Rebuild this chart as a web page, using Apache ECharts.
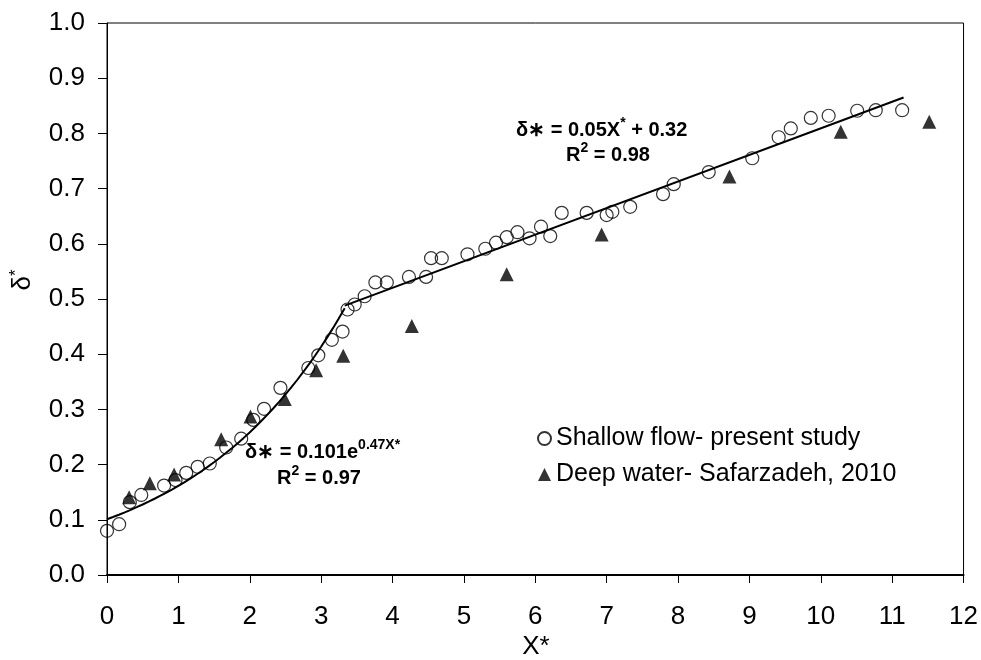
<!DOCTYPE html>
<html>
<head>
<meta charset="utf-8">
<script src="https://cdn.jsdelivr.net/npm/echarts@6/dist/echarts.min.js"></script>
<style>
  html, body { margin: 0; padding: 0; background: #fff; }
  #chart { width: 981px; height: 660px; }
</style>
</head>
<body>
<div id="chart"></div>
<script>
// shallow flow - present study
var shallowX = [0.00, 0.17, 0.32, 0.48, 0.80, 0.96, 1.11, 1.27, 1.44, 1.67, 1.88, 2.05, 2.20, 2.43,
  2.82, 2.96, 3.15, 3.30, 3.37, 3.47, 3.61, 3.76, 3.92, 4.23, 4.47, 4.54, 4.69, 5.05, 5.30, 5.45,
  5.60, 5.75, 5.92, 6.08, 6.21, 6.37, 6.72, 7.00, 7.08, 7.33, 7.79, 7.94, 8.43, 9.04, 9.41, 9.58,
  9.86, 10.11, 10.51, 10.77, 11.14];
var shallowY = [0.080, 0.092, 0.132, 0.145, 0.162, 0.172, 0.185, 0.196, 0.202, 0.231, 0.247, 0.281,
  0.301, 0.339, 0.375, 0.398, 0.426, 0.441, 0.481, 0.490, 0.505, 0.530, 0.530, 0.540, 0.540, 0.574,
  0.574, 0.581, 0.591, 0.602, 0.612, 0.621, 0.610, 0.631, 0.614, 0.656, 0.656, 0.652, 0.658, 0.667,
  0.690, 0.708, 0.730, 0.755, 0.793, 0.809, 0.828, 0.832, 0.841, 0.842, 0.842];

// deep water - Safarzadeh, 2010
var deepX = [0.31, 0.60, 0.94, 1.60, 2.01, 2.49, 2.93, 3.31, 4.27, 5.60, 6.93, 8.72, 10.28, 11.52];
var deepY = [0.141, 0.166, 0.182, 0.246, 0.287, 0.319, 0.371, 0.397, 0.451, 0.545, 0.617, 0.722, 0.803, 0.821];

// fitted trend lines
var expCoef = [0.101, 0.47];           // 0.101 e^(0.47 X*)
var expRange = [0, 3.33];
var linTrend = [[3.33, 0.488], [11.16, 0.865]];  // line as drawn

var xTicks = [0, 12, 1];
var yTicks = [0, 1, 0.1];

var expLine = [];
for (var i = 0; i <= 40; i++) {
  var x = expRange[0] + (expRange[1] - expRange[0]) * i / 40;
  expLine.push([x, expCoef[0] * Math.exp(expCoef[1] * x)]);
}

function zip(a, b) { return a.map(function (v, i) { return [v, b[i]]; }); }

var FONT = 'Liberation Sans, Arial, sans-serif';

// bold equation text with superscripts
var eqRich = {
  a: { fontFamily: FONT, fontWeight: 'bold', fontSize: 20, fill: '#000', lineHeight: 24, verticalAlign: 'bottom' },
  s: { fontFamily: FONT, fontWeight: 'bold', fontSize: 14, fill: '#000', lineHeight: 24, verticalAlign: 'top' }
};

var chart = echarts.init(document.getElementById('chart'));
var option = {
  animation: false,
  backgroundColor: '#fff',
  grid: {
    left: 107, right: 16, top: 23, bottom: 85,
    show: true, borderColor: '#000', borderWidth: 1
  },
  xAxis: {
    type: 'value', min: xTicks[0], max: xTicks[1], interval: xTicks[2],
    axisLine: { lineStyle: { color: '#000', width: 2 } },
    axisTick: { show: true, length: 8, lineStyle: { color: '#000', width: 1 } },
    axisLabel: { color: '#000', fontFamily: FONT, fontSize: 26, margin: 29 },
    splitLine: { show: false }
  },
  yAxis: {
    type: 'value', min: yTicks[0], max: yTicks[1], interval: yTicks[2],
    axisLine: { show: true, lineStyle: { color: '#000', width: 1 } },
    axisTick: { show: true, length: 9, lineStyle: { color: '#000', width: 1 } },
    axisLabel: {
      color: '#000', fontFamily: FONT, fontSize: 26, margin: 22,
      formatter: function (v) { return v.toFixed(1); }
    },
    splitLine: { show: false }
  },
  legend: {
    data: ['Shallow flow- present study', 'Deep water- Safarzadeh, 2010'],
    orient: 'vertical', left: 532, top: 421, itemGap: 11,
    itemWidth: 13, itemHeight: 13,
    textStyle: { color: '#000', fontFamily: FONT, fontSize: 25 }
  },
  series: [
    {
      type: 'line', data: expLine, symbol: 'none', z: 3,
      lineStyle: { color: '#000', width: 2 }
    },
    {
      type: 'line', data: linTrend, symbol: 'none', z: 3,
      lineStyle: { color: '#000', width: 2 }
    },
    {
      name: 'Shallow flow- present study', type: 'scatter', data: zip(shallowX, shallowY),
      symbol: 'circle', symbolSize: 13, z: 2,
      itemStyle: { color: 'rgba(255,255,255,0)', borderColor: '#000', borderWidth: 1.2 }
    },
    {
      name: 'Deep water- Safarzadeh, 2010', type: 'scatter', data: zip(deepX, deepY),
      symbol: 'triangle', symbolSize: 14, z: 2,
      itemStyle: { color: '#000' }
    }
  ],
  graphic: [
    {
      type: 'text', left: 245, top: 438, z: 10,
      style: { text: '{a|δ∗ = 0.101e}{s|0.47X*}', rich: eqRich }
    },
    {
      type: 'text', left: 277, top: 464, z: 10,
      style: { text: '{a|R}{s|2}{a| = 0.97}', rich: eqRich }
    },
    {
      type: 'text', left: 516, top: 116, z: 10,
      style: { text: '{a|δ∗ = 0.05X}{s|*}{a| + 0.32}', rich: eqRich }
    },
    {
      type: 'text', left: 566, top: 141, z: 10,
      style: { text: '{a|R}{s|2}{a| = 0.98}', rich: eqRich }
    },
    {
      type: 'text', x: 536, y: 647, z: 10,
      style: {
        text: 'X*', fontFamily: FONT, fontSize: 26, fill: '#000',
        align: 'center', verticalAlign: 'middle'
      }
    },
    {
      type: 'text', x: 22, y: 280, rotation: Math.PI / 2, z: 10,
      style: {
        text: '{a|δ}{s|*}', align: 'center', verticalAlign: 'middle',
        rich: {
          a: { fontFamily: FONT, fontSize: 26, fill: '#000', lineHeight: 28, verticalAlign: 'bottom' },
          s: { fontFamily: FONT, fontSize: 17, fill: '#000', lineHeight: 28, verticalAlign: 'top' }
        }
      }
    }
  ]
};
chart.setOption(option);
</script>
</body>
</html>
